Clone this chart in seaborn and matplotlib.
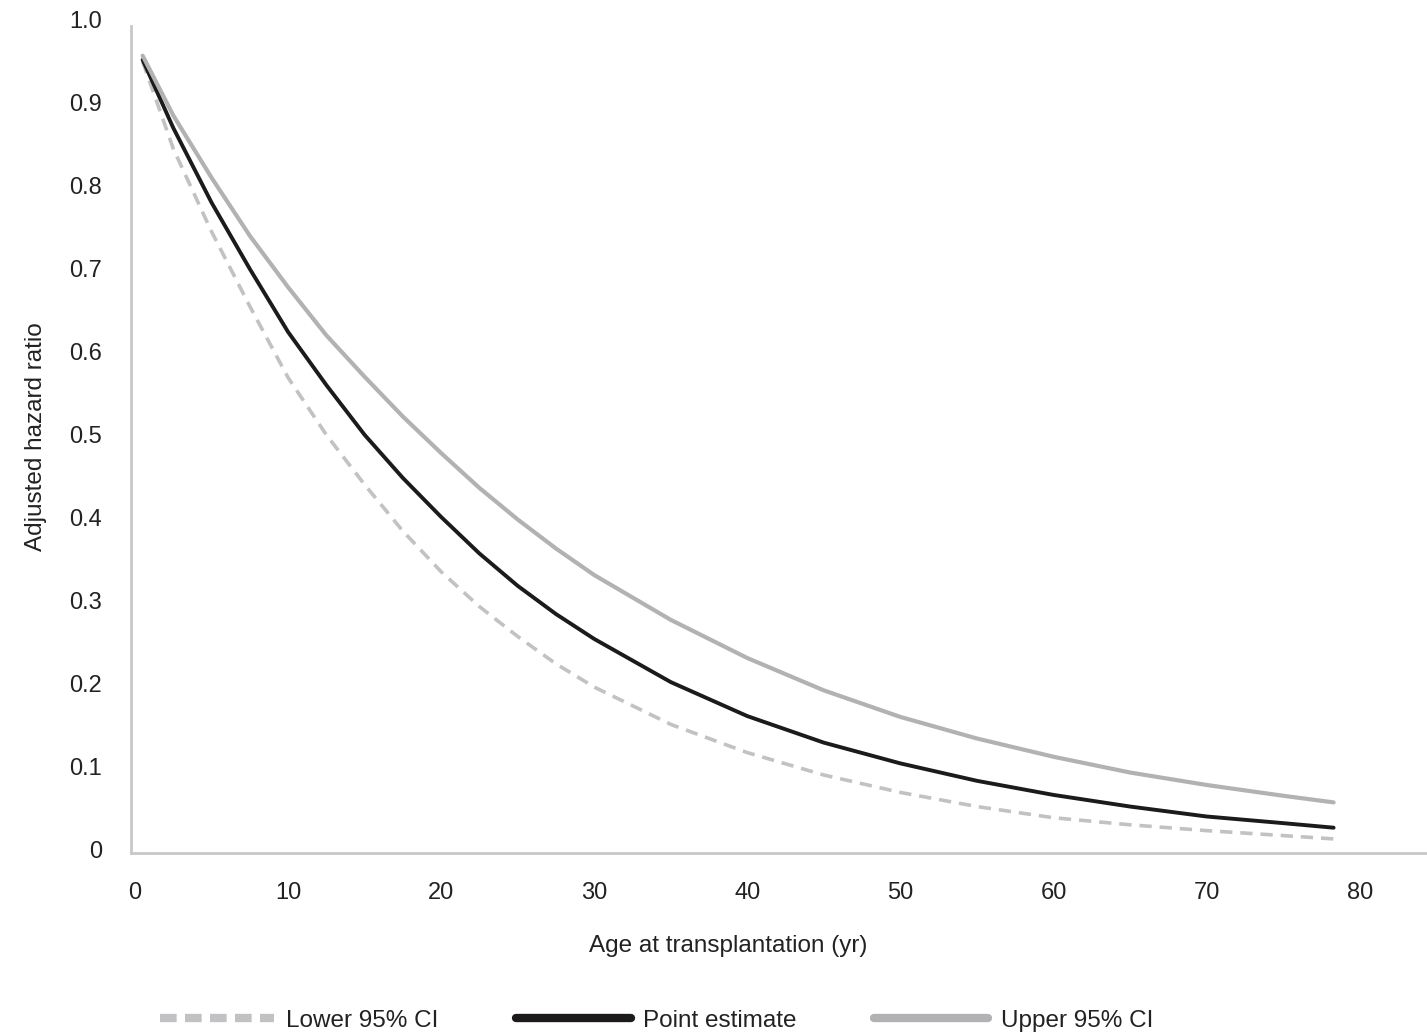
import matplotlib
matplotlib.use("Agg")
import matplotlib.pyplot as plt
import seaborn as sns
import pandas as pd
from matplotlib import font_manager

age = [0.5, 2.5, 5, 7.5, 10, 12.5, 15, 17.5, 20, 22.5, 25, 27.5, 30, 35, 40, 45,
       50, 55, 60, 65, 70, 75, 78.3]
point_est = [0.952, 0.87, 0.78, 0.70, 0.624, 0.56, 0.50, 0.448, 0.401, 0.357, 0.318,
             0.284, 0.254, 0.202, 0.161, 0.129, 0.104, 0.083, 0.066, 0.052, 0.040,
             0.032, 0.0265]
upper_ci = [0.957, 0.885, 0.81, 0.74, 0.678, 0.62, 0.57, 0.522, 0.478, 0.436, 0.398,
            0.363, 0.331, 0.277, 0.231, 0.192, 0.160, 0.134, 0.112, 0.093, 0.078,
            0.065, 0.057]
lower_ci = [0.95, 0.845, 0.745, 0.655, 0.569, 0.50, 0.44, 0.384, 0.335, 0.293, 0.257,
            0.224, 0.196, 0.151, 0.117, 0.090, 0.069, 0.052, 0.0385, 0.030, 0.023,
            0.017, 0.013]
x_ticks = [0, 10, 20, 30, 40, 50, 60, 70, 80]
y_ticks = [0, 0.1, 0.2, 0.3, 0.4, 0.5, 0.6, 0.7, 0.8, 0.9, 1.0]
y_tick_labels = ["0", "0.1", "0.2", "0.3", "0.4", "0.5", "0.6", "0.7", "0.8", "0.9", "1.0"]

sns.set_theme(style="white")
installed = {f.name for f in font_manager.fontManager.ttflist}
fams = [f for f in ["Liberation Sans Narrow", "Liberation Sans", "DejaVu Sans"] if f in installed]
plt.rcParams["font.family"] = fams

df = pd.DataFrame({"age": age, "lower": lower_ci, "point": point_est, "upper": upper_ci})

fig = plt.figure(figsize=(14.27, 10.33), dpi=100)
ax = fig.add_axes([131 / 1427, 1 - 853 / 1033, 1 - 131 / 1427, (853 - 20) / 1033])

sns.lineplot(data=df, x="age", y="lower", ax=ax, color="#c2c2c4", lw=2.6,
             linestyle=(0, (3.4, 2.2)), label="Lower 95% CI")
sns.lineplot(data=df, x="age", y="point", ax=ax, color="#1c1a1b", lw=2.8,
             label="Point estimate")
sns.lineplot(data=df, x="age", y="upper", ax=ax, color="#b2b2b5", lw=3.0,
             label="Upper 95% CI")

ax.set_xlim(-0.26, 84.4)
ax.set_ylim(-0.004, 1.0)
ax.set_xticks(x_ticks)
ax.set_yticks(y_ticks)
ax.set_yticklabels(y_tick_labels)
ax.tick_params(axis="both", length=0, labelsize=17, colors="#222222")
ax.tick_params(axis="x", pad=21)
ax.tick_params(axis="y", pad=21)
for s in ["top", "right"]:
    ax.spines[s].set_visible(False)
for s in ["left", "bottom"]:
    ax.spines[s].set_color("#c8c8c8")
    ax.spines[s].set_linewidth(2)
ax.spines["left"].set_bounds(-0.004, 0.993)

ax.set_xlabel("Age at transplantation (yr)", fontsize=17.5, color="#222222", labelpad=21)
ax.xaxis.set_label_coords(0.461, -0.098)
ax.set_ylabel("Adjusted hazard ratio", fontsize=17.5, color="#222222", labelpad=16)

handles, labels = ax.get_legend_handles_labels()
ax.get_legend().remove()
leg = fig.legend(handles, labels, loc="lower center", bbox_to_anchor=(0.46, -0.02),
                 ncol=3, frameon=False, fontsize=17.5, handlelength=4.7,
                 handletextpad=0.5, columnspacing=3.2)
for h in leg.get_lines():
    h.set_linewidth(6)
leg.get_lines()[0].set_linestyle((0, (2, 1)))
for t in leg.get_texts():
    t.set_color("#222222")

fig.savefig("out.png", dpi=100)
